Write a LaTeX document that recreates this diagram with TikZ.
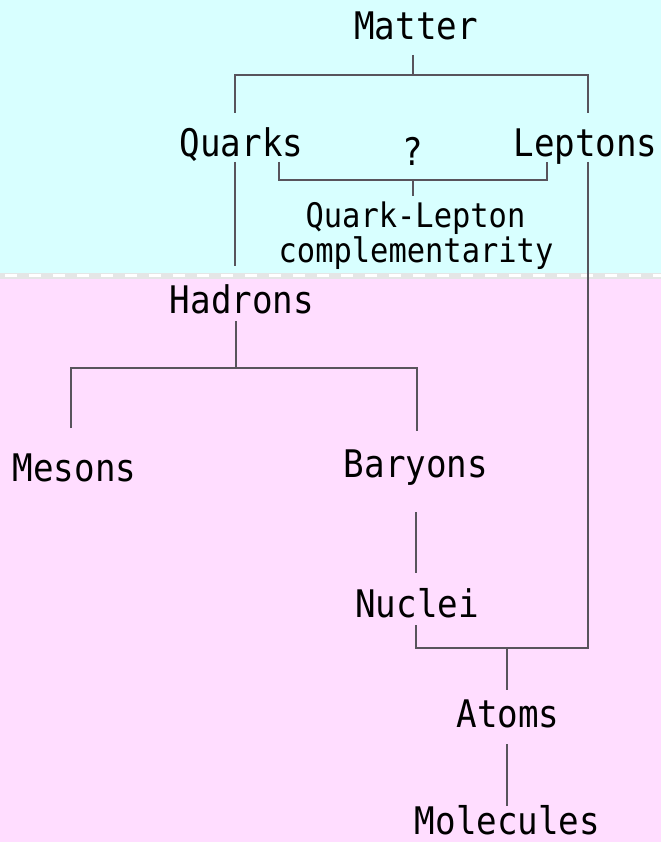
\documentclass[tikz,border=0pt]{standalone}
\usepackage{fontspec}
\newfontfamily\dmono[FakeStretch=0.9]{DejaVu Sans Mono}
\definecolor{topbg}{RGB}{216,255,255}
\definecolor{botbg}{RGB}{255,221,255}
\definecolor{band}{RGB}{228,230,230}
\definecolor{ln}{RGB}{88,84,92}
\tikzset{
  big/.style={anchor=base, inner sep=0pt, font=\dmono\fontsize{38pt}{40pt}\selectfont, text=black},
  small/.style={anchor=base, inner sep=0pt, font=\dmono\fontsize{33.8pt}{36pt}\selectfont, text=black},
  conn/.style={draw=ln, line width=1.8pt, line cap=butt, line join=miter}
}
\begin{document}
\begin{tikzpicture}[x=1pt,y=-1pt]
\useasboundingbox (0,0) rectangle (661,842);
% backgrounds
\fill[topbg] (0,0) rectangle (661,272.5);
\fill[band] (0,272.5) rectangle (661,278.5);
\fill[botbg] (0,278.5) rectangle (661,842);
\draw[white, line width=3pt, dash pattern=on 12pt off 12pt] (5,275.5) -- (661,275.5);

% nodes
\node[big] (matter) at (416,40) {Matter};
\node[big] (quarks) at (241.5,157) {Quarks};
\node[big] (leptons) at (585.5,157) {Leptons};
\node[big] (q) at (413,166) {?};
\node[small] (qlc1) at (415.5,228) {Quark-Lepton};
\node[small] (qlc2) at (416,262) {complementarity};
\node[big] (hadrons) at (242,313) {Hadrons};
\node[big] (mesons) at (74.5,481) {Mesons};
\node[big] (baryons) at (416,477) {Baryons};
\node[big] (nuclei) at (417,617) {Nuclei};
\node[big] (atoms) at (508,727) {Atoms};
\node[big] (molecules) at (507.5,834) {Molecules};

% junction coordinates
\coordinate (mA) at (413,55);
\coordinate (mJ) at (413,75);
\coordinate (qTop) at (235,113);
\coordinate (lTop) at (588,113);
\coordinate (qBot) at (235,162);
\coordinate (qEnd) at (235,266);
\coordinate (lBot) at (588,162);
\coordinate (bL) at (279,162);
\coordinate (bR) at (547,162);
\coordinate (bJ) at (413,180);
\coordinate (bT) at (413,196);
\coordinate (hA) at (236,321);
\coordinate (hJ) at (236,368);
\coordinate (meT) at (71,428);
\coordinate (baT) at (417,431);
\coordinate (baB) at (416,512);
\coordinate (nuT) at (416,573);
\coordinate (nuB) at (416,625);
\coordinate (aJ) at (507,648);
\coordinate (aT) at (507,690);
\coordinate (aB) at (507,744);
\coordinate (moT) at (507,806);

% connectors
\draw[conn] (mA) -- (mJ);
\draw[conn] (qTop) |- (mJ) -| (lTop);
\draw[conn] (bL) |- (bJ) -| (bR);
\draw[conn] (bJ) -- (bT);
\draw[conn] (qBot) -- (qEnd);
\draw[conn] (lBot) |- (aJ) -| (nuB);
\draw[conn] (aJ) -- (aT);
\draw[conn] (hA) -- (hJ);
\draw[conn] (meT) |- (hJ) -| (baT);
\draw[conn] (baB) -- (nuT);
\draw[conn] (aB) -- (moT);
\end{tikzpicture}
\end{document}
